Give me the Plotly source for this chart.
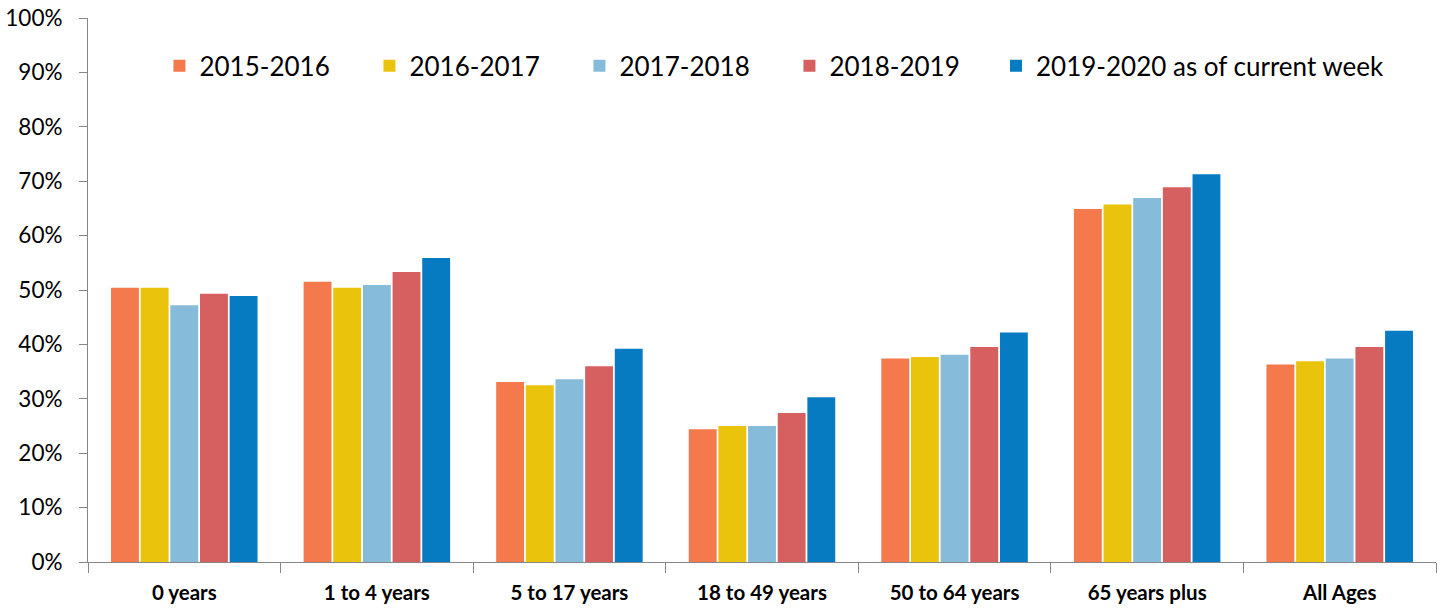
import plotly.graph_objects as go

categories = ["0 years", "1 to 4 years", "5 to 17 years", "18 to 49 years",
              "50 to 64 years", "65 years plus", "All Ages"]
seasons = ["2015-2016", "2016-2017", "2017-2018", "2018-2019",
           "2019-2020 as of current week"]
s2015 = [50.4, 51.5, 33.1, 24.4, 37.4, 64.9, 36.3]
s2016 = [50.4, 50.4, 32.5, 25.0, 37.7, 65.7, 36.9]
s2017 = [47.2, 50.9, 33.6, 25.0, 38.1, 66.9, 37.4]
s2018 = [49.3, 53.3, 36.0, 27.4, 39.5, 68.9, 39.5]
s2019 = [48.9, 55.9, 39.2, 30.3, 42.2, 71.3, 42.5]
colors = ["#F4794C", "#EAC30C", "#87BBDA", "#D65F60", "#077BC1"]

fig = go.Figure()
all_vals = [s2015, s2016, s2017, s2018, s2019]
for i, (name, vals, c) in enumerate(zip(seasons, all_vals, colors)):
    # last season gets its own legend so the fixed entry width doesn't clip it
    fig.add_trace(go.Bar(x=categories, y=[v / 100 for v in vals], name=name,
                         legend="legend2" if i == 4 else "legend",
                         marker=dict(color=c, line=dict(width=0))))

leg = dict(orientation="h", y=0.912, xanchor="left", yanchor="middle",
           font=dict(size=26), bgcolor="rgba(0,0,0,0)", itemwidth=30)

fig.update_layout(
    width=1444, height=612,
    margin=dict(l=88, r=8, t=18, b=50),
    plot_bgcolor="white", paper_bgcolor="white",
    font=dict(family="Lato", color="#000000"),
    barmode="group", bargap=0.23, bargroupgap=0.06,
    showlegend=True,
    legend=dict(leg, x=0.053, entrywidth=165),
    legend2=dict(leg, x=0.6736),
    xaxis=dict(showline=True, linecolor="#868686", linewidth=1, automargin=False,
               ticks="outside", tickson="boundaries", ticklen=10, tickcolor="#868686",
               ticklabelstandoff=12,
               tickfont=dict(size=20.5, family="Lato", weight="bold")),
    yaxis=dict(range=[0, 1], dtick=0.1, tickformat=".0%", showgrid=False,
               showline=True, linecolor="#868686", linewidth=1, zeroline=False,
               automargin=False, ticks="outside", ticklen=8, tickcolor="#868686",
               ticklabelstandoff=12, tickfont=dict(size=22.5)),
)

fig.write_html("out.html", config={"displayModeBar": False},
               post_script="document.body.style.margin='0';")
